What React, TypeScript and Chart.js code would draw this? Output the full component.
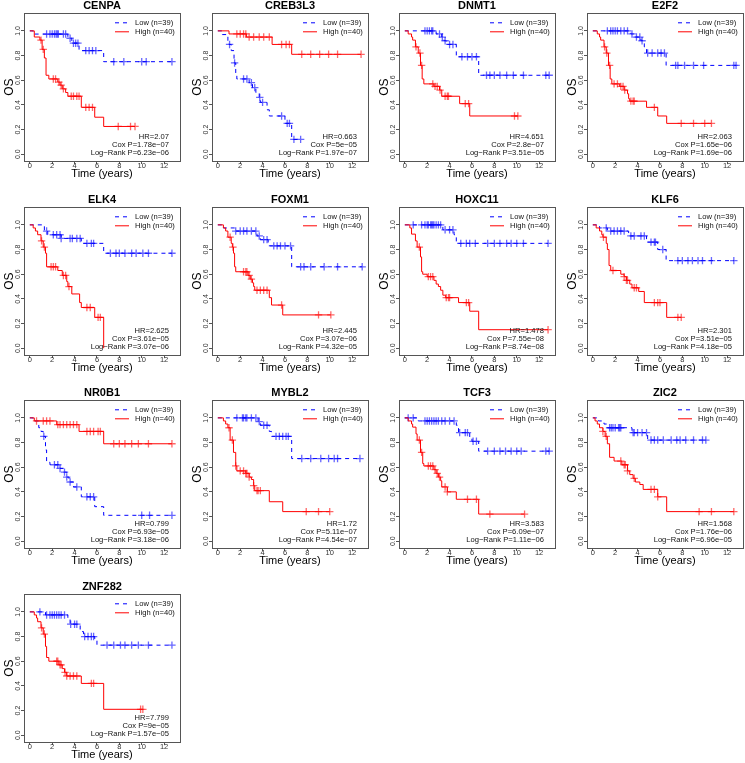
import React, { useEffect, useRef } from "react";
import { Chart, registerables } from "chart.js";
Chart.register(...registerables);

const FONT = '"Liberation Sans", Arial, Helvetica, sans-serif';
Chart.defaults.font.family = FONT;

const GENES = ["CENPA", "CREB3L3", "DNMT1", "E2F2", "ELK4", "FOXM1", "HOXC11", "KLF6", "NR0B1", "MYBL2", "TCF3", "ZIC2", "ZNF282"];
const HR = ["2.07", "0.663", "4.651", "2.063", "2.625", "2.445", "1.478", "2.301", "0.799", "1.72", "3.583", "1.568", "7.799"];
const COX_P = ["1.78e−07", "5e−05", "2.8e−07", "1.65e−06", "3.61e−05", "3.07e−06", "7.55e−08", "3.51e−05", "6.93e−05", "5.11e−07", "6.09e−07", "1.76e−06", "9e−05"];
const LOGRANK_P = ["6.23e−06", "1.97e−07", "3.51e−05", "1.69e−06", "3.07e−06", "4.32e−05", "8.74e−08", "4.18e−05", "3.18e−06", "4.54e−07", "1.11e−06", "6.96e−05", "1.57e−05"];
const LEGEND_LABELS = ["Low (n=39)", "High (n=40)"];
const X_TICKS = [0, 2, 4, 6, 8, 10, 12];
const Y_TICKS = [0, 0.2, 0.4, 0.6, 0.8, 1.0];
const X_TITLE = "Time (years)";
const Y_TITLE = "OS";

// [time, survival after the event]
const CENPA_LOW = [[0, 1], [0.3, 0.974], [3.4, 0.94], [3.75, 0.9], [4.4, 0.84], [6.6, 0.75]];
const CENPA_LOW_CENS = [1.5, 1.8, 2.0, 2.2, 2.35, 2.45, 2.55, 3.0, 3.2, 3.6, 3.9, 4.1, 4.3, 5.0, 5.3, 5.6, 5.9, 7.5, 8.4, 10.0, 10.4, 12.7];
const CENPA_HIGH = [[0, 1], [0.4, 0.95], [0.9, 0.925], [1.1, 0.85], [1.3, 0.78], [1.45, 0.64], [1.7, 0.61], [2.5, 0.585], [2.7, 0.56], [2.9, 0.53], [3.2, 0.5], [3.4, 0.47], [4.6, 0.38], [5.8, 0.3], [6.6, 0.225]];
const CENPA_HIGH_CENS = [1.0, 1.2, 2.1, 2.3, 2.6, 2.8, 3.0, 3.7, 3.9, 4.2, 4.4, 5.0, 5.3, 5.6, 7.9, 9.0, 9.4];

const CREB3L3_LOW = [[0, 1], [0.4, 0.97], [0.9, 0.92], [1.0, 0.89], [1.2, 0.84], [1.45, 0.74], [1.6, 0.64], [1.7, 0.61], [2.8, 0.58], [3.1, 0.54], [3.4, 0.5], [3.7, 0.46], [3.8, 0.42], [4.4, 0.36], [4.6, 0.31], [6.0, 0.25], [6.6, 0.12]];
const CREB3L3_LOW_CENS = [1.05, 1.5, 2.3, 2.6, 3.0, 3.3, 3.75, 4.0, 5.7, 6.2, 6.4, 6.8, 7.4];
const CREB3L3_HIGH = [[0, 1], [1.0, 0.975], [2.55, 0.95], [4.85, 0.89], [6.6, 0.81]];
const CREB3L3_HIGH_CENS = [1.7, 2.0, 2.3, 2.5, 2.8, 3.2, 3.7, 4.1, 4.6, 5.7, 6.1, 6.4, 7.5, 8.3, 9.1, 9.9, 10.7, 12.8];

const DNMT1_LOW = [[0, 1], [2.8, 0.975], [3.3, 0.95], [3.5, 0.92], [3.7, 0.89], [4.6, 0.79], [6.6, 0.64]];
const DNMT1_LOW_CENS = [1.8, 2.0, 2.2, 2.4, 2.5, 3.1, 3.35, 3.6, 4.0, 4.3, 5.1, 5.6, 6.0, 6.4, 7.3, 7.6, 8.0, 8.5, 9.1, 9.7, 10.6, 12.6, 12.9];
const DNMT1_HIGH = [[0, 1], [0.3, 0.975], [0.6, 0.95], [0.7, 0.925], [0.95, 0.87], [1.2, 0.82], [1.4, 0.72], [1.55, 0.61], [1.7, 0.57], [2.6, 0.55], [3.1, 0.52], [3.3, 0.47], [4.9, 0.41], [5.8, 0.31]];
const DNMT1_HIGH_CENS = [1.0, 1.35, 1.5, 2.5, 2.7, 2.9, 3.15, 3.6, 3.8, 3.9, 5.4, 5.7, 9.8, 10.1];

const E2F2_LOW = [[0, 1], [3.4, 0.975], [3.7, 0.95], [4.3, 0.92], [4.6, 0.87], [4.8, 0.82], [6.55, 0.72]];
const E2F2_LOW_CENS = [1.3, 1.6, 1.8, 2.0, 2.2, 2.5, 2.8, 3.1, 3.5, 3.9, 4.2, 4.4, 4.9, 5.3, 5.8, 6.1, 6.4, 7.4, 7.6, 8.2, 9.0, 9.9, 12.6, 12.8];
const E2F2_HIGH = [[0, 1], [0.4, 0.975], [0.6, 0.95], [0.7, 0.925], [1.0, 0.87], [1.2, 0.82], [1.4, 0.72], [1.55, 0.61], [1.7, 0.57], [2.4, 0.55], [2.8, 0.52], [3.1, 0.49], [3.2, 0.45], [3.3, 0.43], [4.8, 0.38], [5.8, 0.31], [6.6, 0.25]];
const E2F2_HIGH_CENS = [1.05, 1.25, 1.5, 1.9, 2.2, 2.5, 2.7, 2.85, 3.4, 3.6, 3.7, 5.5, 7.9, 9.0, 10.0, 10.6];

const ELK4_LOW = [[0, 1], [1.3, 0.95], [1.6, 0.92], [2.8, 0.89], [4.6, 0.85], [6.6, 0.77]];
const ELK4_LOW_CENS = [1.5, 2.1, 2.4, 2.7, 2.8, 3.6, 3.8, 4.2, 4.5, 5.1, 5.5, 5.7, 7.2, 7.7, 8.0, 8.5, 9.1, 9.5, 10.1, 10.6, 12.7];
const ELK4_HIGH = [[0, 1], [0.3, 0.975], [0.5, 0.95], [0.7, 0.92], [1.0, 0.87], [1.2, 0.82], [1.4, 0.77], [1.5, 0.66], [2.5, 0.63], [2.9, 0.59], [3.3, 0.54], [3.4, 0.5], [3.75, 0.44], [4.45, 0.37], [4.6, 0.33], [5.8, 0.25], [6.6, 0]];
const ELK4_HIGH_CENS = [1.05, 1.3, 1.9, 2.1, 2.3, 3.0, 3.2, 3.5, 5.1, 5.4, 6.1, 6.3];

const FOXM1_LOW = [[0, 1], [0.5, 0.975], [1.5, 0.95], [3.5, 0.91], [3.8, 0.88], [4.5, 0.83], [6.6, 0.66]];
const FOXM1_LOW_CENS = [1.6, 2.0, 2.3, 2.6, 3.0, 3.4, 3.7, 4.1, 4.4, 5.0, 5.3, 5.6, 6.0, 6.5, 7.4, 7.7, 8.3, 9.5, 10.7, 12.9];
const FOXM1_HIGH = [[0, 1], [0.5, 0.975], [0.7, 0.95], [0.9, 0.9], [1.2, 0.85], [1.3, 0.82], [1.4, 0.77], [1.5, 0.66], [1.6, 0.62], [2.7, 0.59], [2.9, 0.56], [3.1, 0.53], [3.2, 0.5], [3.3, 0.47], [4.6, 0.41], [4.8, 0.35], [5.8, 0.27]];
const FOXM1_HIGH_CENS = [1.1, 1.35, 2.3, 2.5, 2.6, 2.8, 3.0, 3.5, 3.8, 4.1, 4.4, 5.7, 9.0, 10.1];

const HOXC11_LOW = [[0, 1], [3.4, 0.96], [4.4, 0.92], [4.6, 0.85]];
const HOXC11_LOW_CENS = [0.75, 1.5, 1.8, 2.0, 2.1, 2.3, 2.4, 2.5, 2.6, 2.8, 3.0, 3.2, 3.6, 4.0, 4.3, 5.0, 5.5, 5.8, 6.3, 7.4, 8.0, 8.5, 9.1, 9.5, 10.0, 10.6, 12.8];
const HOXC11_HIGH = [[0, 1], [0.45, 0.975], [0.6, 0.925], [0.95, 0.87], [1.1, 0.82], [1.4, 0.74], [1.5, 0.62], [1.6, 0.6], [2.0, 0.58], [2.6, 0.55], [2.8, 0.52], [3.0, 0.5], [3.2, 0.47], [3.4, 0.43], [3.65, 0.41], [4.8, 0.37], [5.8, 0.3], [6.6, 0.15]];
const HOXC11_HIGH_CENS = [1.3, 2.1, 2.3, 2.5, 3.7, 3.9, 4.0, 5.5, 5.7, 12.8];

const KLF6_LOW = [[0, 1], [0.6, 0.975], [1.3, 0.95], [3.2, 0.91], [4.8, 0.86], [5.8, 0.8], [6.55, 0.71]];
const KLF6_LOW_CENS = [1.2, 1.6, 1.9, 2.2, 2.5, 2.8, 3.4, 3.7, 4.3, 4.6, 5.2, 5.5, 5.6, 6.25, 7.6, 8.0, 8.5, 8.9, 9.4, 9.8, 10.6, 12.6];
const KLF6_HIGH = [[0, 1], [0.3, 0.975], [0.6, 0.95], [0.8, 0.92], [0.9, 0.9], [1.2, 0.85], [1.3, 0.8], [1.45, 0.67], [1.6, 0.63], [2.5, 0.6], [2.8, 0.58], [3.0, 0.55], [3.3, 0.52], [3.5, 0.49], [4.1, 0.46], [4.6, 0.37], [6.6, 0.25]];
const KLF6_HIGH_CENS = [0.95, 1.8, 2.8, 3.0, 3.1, 3.7, 3.9, 5.5, 5.8, 6.0, 7.6, 7.9];

const NR0B1_LOW = [[0, 1], [0.3, 0.975], [0.8, 0.92], [1.0, 0.89], [1.2, 0.85], [1.4, 0.74], [1.5, 0.64], [1.8, 0.62], [2.7, 0.59], [3.0, 0.56], [3.3, 0.52], [3.5, 0.48], [3.9, 0.44], [4.6, 0.36], [5.8, 0.28], [6.6, 0.21]];
const NR0B1_LOW_CENS = [1.25, 2.2, 2.5, 2.7, 3.1, 3.3, 3.6, 4.2, 5.1, 5.4, 5.7, 10.0, 10.7, 12.7];
const NR0B1_HIGH = [[0, 1], [0.4, 0.975], [2.4, 0.945], [4.4, 0.89], [6.6, 0.79]];
const NR0B1_HIGH_CENS = [0.6, 1.2, 1.5, 1.8, 2.5, 2.7, 3.0, 3.3, 3.6, 3.9, 4.2, 5.1, 5.4, 5.7, 6.1, 6.3, 7.5, 8.0, 8.5, 9.1, 9.7, 10.6, 12.7];

const MYBL2_LOW = [[0, 1], [3.6, 0.97], [3.8, 0.94], [4.6, 0.89], [4.8, 0.85], [6.6, 0.67]];
const MYBL2_LOW_CENS = [1.7, 2.2, 2.3, 2.5, 2.6, 3.0, 3.4, 3.7, 4.1, 4.4, 5.2, 5.5, 5.8, 6.1, 6.3, 7.5, 8.3, 9.2, 9.9, 10.4, 10.7, 12.7];
const MYBL2_HIGH = [[0, 1], [0.5, 0.975], [0.7, 0.95], [0.9, 0.92], [1.1, 0.82], [1.4, 0.72], [1.6, 0.61], [1.7, 0.57], [2.5, 0.55], [2.8, 0.52], [3.0, 0.5], [3.2, 0.45], [3.3, 0.41], [4.6, 0.32], [5.8, 0.24]];
const MYBL2_HIGH_CENS = [1.0, 1.3, 1.6, 2.0, 2.3, 2.5, 2.6, 2.8, 3.2, 3.5, 3.6, 3.8, 7.9, 9.0, 10.0];

const TCF3_LOW = [[0, 1], [1.2, 0.975], [4.6, 0.94], [4.8, 0.88], [5.8, 0.84], [6.0, 0.81], [6.6, 0.73]];
const TCF3_LOW_CENS = [0.3, 0.75, 1.8, 2.0, 2.2, 2.4, 2.6, 2.8, 3.0, 3.3, 3.6, 4.0, 4.4, 4.9, 5.4, 5.6, 6.1, 6.4, 7.4, 8.0, 8.5, 9.0, 9.5, 10.0, 10.4, 12.6, 12.9];
const TCF3_HIGH = [[0, 1], [0.3, 0.975], [0.6, 0.95], [0.7, 0.925], [1.0, 0.87], [1.1, 0.82], [1.4, 0.72], [1.6, 0.63], [1.7, 0.61], [2.6, 0.58], [2.8, 0.55], [3.0, 0.52], [3.2, 0.49], [3.3, 0.44], [3.8, 0.4], [4.6, 0.34], [6.6, 0.22]];
const TCF3_HIGH_CENS = [1.3, 1.5, 2.1, 2.3, 2.5, 2.7, 2.9, 3.1, 3.6, 3.8, 5.6, 6.4, 7.6, 10.7];

const ZIC2_LOW = [[0, 1], [0.5, 0.975], [1.0, 0.95], [1.3, 0.92], [3.5, 0.88], [4.9, 0.82]];
const ZIC2_LOW_CENS = [1.5, 1.65, 1.8, 2.0, 2.3, 2.4, 2.5, 3.6, 3.7, 4.0, 4.4, 4.8, 5.2, 5.5, 5.8, 6.3, 7.0, 7.5, 7.8, 8.3, 9.0, 9.8, 10.1];
const ZIC2_HIGH = [[0, 1], [0.2, 0.975], [0.4, 0.95], [0.6, 0.92], [0.9, 0.89], [1.1, 0.85], [1.3, 0.79], [1.5, 0.68], [1.9, 0.65], [2.6, 0.62], [3.1, 0.57], [3.3, 0.54], [3.6, 0.51], [3.8, 0.48], [4.2, 0.46], [4.5, 0.42], [5.8, 0.36], [6.6, 0.24]];
const ZIC2_HIGH_CENS = [0.9, 1.2, 2.5, 2.8, 2.9, 3.1, 3.7, 5.2, 5.5, 5.8, 9.5, 10.6, 12.6];

const ZNF282_LOW = [[0, 1], [1.4, 0.975], [3.4, 0.94], [3.6, 0.9], [4.5, 0.84], [4.8, 0.8], [5.8, 0.77], [6.0, 0.73]];
const ZNF282_LOW_CENS = [0.9, 1.5, 1.8, 2.0, 2.2, 2.4, 2.6, 2.8, 3.1, 3.65, 4.0, 4.2, 4.9, 5.2, 5.5, 5.7, 6.9, 7.5, 8.1, 8.5, 9.1, 9.7, 10.6, 12.7];
const ZNF282_HIGH = [[0, 1], [0.4, 0.975], [0.6, 0.95], [0.7, 0.92], [1.0, 0.87], [1.2, 0.82], [1.4, 0.72], [1.5, 0.63], [1.7, 0.6], [2.6, 0.57], [2.9, 0.54], [3.1, 0.51], [3.3, 0.48], [4.6, 0.42], [6.6, 0.21]];
const ZNF282_HIGH_CENS = [1.05, 1.3, 2.4, 2.5, 2.7, 2.8, 3.15, 3.3, 3.6, 3.9, 4.2, 5.5, 5.7, 9.9, 10.1];

const LOW_STEPS = [CENPA_LOW, CREB3L3_LOW, DNMT1_LOW, E2F2_LOW, ELK4_LOW, FOXM1_LOW, HOXC11_LOW, KLF6_LOW, NR0B1_LOW, MYBL2_LOW, TCF3_LOW, ZIC2_LOW, ZNF282_LOW];
const LOW_CENS = [CENPA_LOW_CENS, CREB3L3_LOW_CENS, DNMT1_LOW_CENS, E2F2_LOW_CENS, ELK4_LOW_CENS, FOXM1_LOW_CENS, HOXC11_LOW_CENS, KLF6_LOW_CENS, NR0B1_LOW_CENS, MYBL2_LOW_CENS, TCF3_LOW_CENS, ZIC2_LOW_CENS, ZNF282_LOW_CENS];
const HIGH_STEPS = [CENPA_HIGH, CREB3L3_HIGH, DNMT1_HIGH, E2F2_HIGH, ELK4_HIGH, FOXM1_HIGH, HOXC11_HIGH, KLF6_HIGH, NR0B1_HIGH, MYBL2_HIGH, TCF3_HIGH, ZIC2_HIGH, ZNF282_HIGH];
const HIGH_CENS = [CENPA_HIGH_CENS, CREB3L3_HIGH_CENS, DNMT1_HIGH_CENS, E2F2_HIGH_CENS, ELK4_HIGH_CENS, FOXM1_HIGH_CENS, HOXC11_HIGH_CENS, KLF6_HIGH_CENS, NR0B1_HIGH_CENS, MYBL2_HIGH_CENS, TCF3_HIGH_CENS, ZIC2_HIGH_CENS, ZNF282_HIGH_CENS];

const RED = "#ff0000";
const BLUE = "#0000ff";
const RED_MARK = "rgba(255,0,0,0.6)";
const BLUE_MARK = "rgba(0,0,255,0.6)";

const CELL_W = 187.7;
const CELL_H = 193.6;
const CANVAS_W = 188;
const CANVAS_H = 194;

function survAt(steps: number[][], t: number) {
  let s = 1;
  for (const [x, y] of steps) if (x <= t) s = y;
  return s;
}
function lineData(steps: number[][], cens: number[]) {
  const pts = steps.map(([x, y]) => ({ x, y }));
  const last = steps[steps.length - 1];
  const end = Math.max(last[0], ...cens);
  if (end > last[0]) pts.push({ x: end, y: last[1] });
  return pts;
}
function censData(steps: number[][], cens: number[]) {
  return cens.map((t) => ({ x: t, y: survAt(steps, t) }));
}

const decorPlugin = {
  id: "decor",
  afterDraw(chart: any, _args: any, opts: any) {
    const { ctx, chartArea: a } = chart;
    ctx.save();
    ctx.strokeStyle = "#555";
    ctx.lineWidth = 1;
    ctx.strokeRect(Math.round(a.left) + 0.5, Math.round(a.top) + 0.5, Math.round(a.right - a.left), Math.round(a.bottom - a.top));
    // legend
    const lx = a.left + 91;
    const rows = [
      { label: LEGEND_LABELS[0], color: BLUE, dash: [4, 4] },
      { label: LEGEND_LABELS[1], color: RED, dash: [] },
    ];
    ctx.font = `7.6px ${FONT}`;
    ctx.textBaseline = "middle";
    rows.forEach((r, i) => {
      const y = a.top + 9.7 + i * 9;
      ctx.strokeStyle = r.color;
      ctx.lineWidth = 1;
      ctx.setLineDash(r.dash);
      ctx.beginPath();
      ctx.moveTo(lx, y);
      ctx.lineTo(lx + 14, y);
      ctx.stroke();
      ctx.setLineDash([]);
      ctx.fillStyle = "#111";
      ctx.textAlign = "left";
      ctx.fillText(r.label, lx + 20, y);
    });
    // stats
    const i = opts.idx;
    ctx.textAlign = "right";
    ctx.fillStyle = "#111";
    const rx = a.right - 11;
    ctx.fillText(`HR=${HR[i]}`, rx, a.top + 123.5);
    ctx.fillText(`Cox P=${COX_P[i]}`, rx, a.top + 131.5);
    ctx.fillText(`Log−Rank P=${LOGRANK_P[i]}`, rx, a.top + 139.5);
    ctx.restore();
  },
};

function Panel({ idx }: { idx: number }) {
  const ref = useRef<HTMLCanvasElement>(null);
  useEffect(() => {
    const canvas = ref.current!;
    const low = LOW_STEPS[idx];
    const lowC = LOW_CENS[idx];
    const high = HIGH_STEPS[idx];
    const highC = HIGH_CENS[idx];
    const chart = new Chart(canvas, {
      type: "line",
      data: {
        datasets: [
          { label: LEGEND_LABELS[1], data: lineData(high, highC), borderColor: RED, borderWidth: 1, stepped: true, pointRadius: 0, fill: false },
          { label: "High censored", data: censData(high, highC), showLine: false, pointStyle: "cross", pointRadius: 3.7, pointBorderWidth: 1.3, borderColor: RED_MARK, backgroundColor: RED_MARK },
          { label: LEGEND_LABELS[0], data: lineData(low, lowC), borderColor: BLUE, borderWidth: 1, borderDash: [4, 4], stepped: true, pointRadius: 0, fill: false },
          { label: "Low censored", data: censData(low, lowC), showLine: false, pointStyle: "cross", pointRadius: 3.7, pointBorderWidth: 1.3, borderColor: BLUE_MARK, backgroundColor: BLUE_MARK },
        ],
      },
      options: {
        responsive: false,
        maintainAspectRatio: false,
        animation: false,
        events: [],
        layout: { padding: { left: 0, right: CANVAS_W - 180, top: 0, bottom: 0 } },
        plugins: {
          legend: { display: false },
          tooltip: { enabled: false },
          title: { display: true, fullSize: false, text: GENES[idx], color: "#000", font: { family: FONT, size: 11, weight: "bold", lineHeight: 1.1 }, padding: { top: 0, bottom: 1 } },
          decor: { idx },
        } as any,
        scales: {
          x: {
            type: "linear",
            min: -0.52,
            max: 13.42,
            afterBuildTicks: (s: any) => { s.ticks = X_TICKS.map((v) => ({ value: v })); },
            afterFit: (s: any) => { s.height = CANVAS_H - 161; },
            grid: { drawOnChartArea: false, drawTicks: true, tickLength: 3, color: "#555" },
            border: { display: false },
            ticks: { font: { family: FONT, size: 7.5 }, color: "#333", padding: -2.5, maxRotation: 0, autoSkip: false },
            title: { display: true, text: X_TITLE, color: "#000", font: { family: FONT, size: 11 }, padding: { top: 0, bottom: 13.9 } },
          },
          y: {
            type: "linear",
            min: -0.055,
            max: 1.144,
            afterBuildTicks: (s: any) => { s.ticks = Y_TICKS.map((v) => ({ value: v })); },
            afterFit: (s: any) => { s.width = 24; },
            grid: { drawOnChartArea: false, drawTicks: true, tickLength: 3, color: "#555" },
            border: { display: false },
            ticks: { font: { family: FONT, size: 7 }, color: "#333", padding: -1.6, minRotation: 90, maxRotation: 90, crossAlign: "center", autoSkip: false, callback: (v: any) => Number(v).toFixed(1) },
            title: { display: true, text: Y_TITLE, color: "#000", font: { family: FONT, size: 12 }, padding: { top: 2, bottom: 0 } },
          },
        },
      } as any,
      plugins: [decorPlugin],
    });
    return () => chart.destroy();
  }, [idx]);
  const col = idx % 4;
  const row = Math.floor(idx / 4);
  return (
    <canvas
      ref={ref}
      width={CANVAS_W}
      height={CANVAS_H}
      style={{ position: "absolute", left: Math.round(col * CELL_W), top: Math.round(row * CELL_H), width: CANVAS_W, height: CANVAS_H }}
    />
  );
}

export default function App() {
  return (
    <div style={{ position: "absolute", left: 0, top: 0, width: 745, height: 763, overflow: "hidden", background: "#fff" }}>
      {GENES.map((g, i) => (
        <Panel key={g} idx={i} />
      ))}
    </div>
  );
}
